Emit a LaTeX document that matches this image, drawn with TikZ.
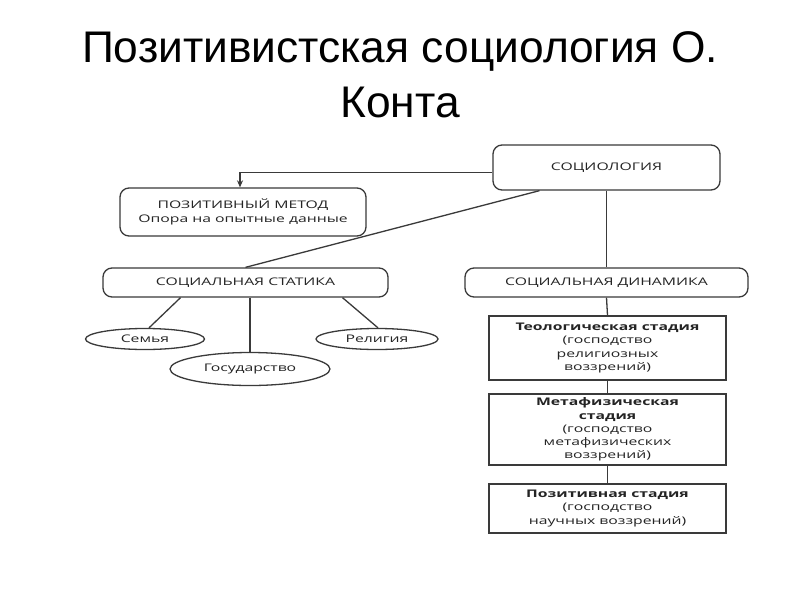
\documentclass[tikz,border=0pt]{standalone}
\usepackage{fontspec}
\setmainfont{Liberation Sans}
\newfontfamily\diafont[FakeStretch=1.5]{Open Sans}
\usetikzlibrary{shapes.geometric,arrows.meta}
\definecolor{lc}{HTML}{3A3A3A}
\definecolor{tc}{HTML}{242424}
\begin{document}
\begin{tikzpicture}[x=1pt,y=-1pt,
  rbox/.style={draw=lc,line width=1.3pt,rounded corners=9pt,inner sep=0pt,align=center,text=tc,font=\diafont\fontsize{10.5}{14}\selectfont},
  sbox/.style={draw=lc,line width=1.5pt,inner sep=0pt,align=center,text=tc,font=\diafont\fontsize{10.5}{13.2}\selectfont,minimum width=237pt},
  ell/.style={draw=lc,line width=1.3pt,ellipse,inner sep=0pt,text=tc,font=\diafont\fontsize{10.5}{14}\selectfont},
  ttl/.style={font=\fontsize{44.3}{54}\selectfont,text=black,anchor=base,inner sep=0pt},
  conn/.style={draw=lc,line width=1.3pt}]
\useasboundingbox (0,0) rectangle (800,600);
\fill[white] (0,0) rectangle (800,600);
\node[ttl] (t1) at (400,62) {Позитивистская социология О.};
\node[ttl] (t2) at (400,117) {Конта};

\node[rbox,minimum width=227pt,minimum height=45pt] (soc) at (606.5,167.5) {СОЦИОЛОГИЯ};
\node[rbox,minimum width=246pt,minimum height=48pt] (pm) at (243,212) {ПОЗИТИВНЫЙ МЕТОД\\Опора на опытные данные};
\node[rbox,minimum width=285pt,minimum height=29pt] (stat) at (245.5,282.5) {СОЦИАЛЬНАЯ СТАТИКА};
\node[rbox,minimum width=283pt,minimum height=29pt] (dyn) at (606.5,282.5) {СОЦИАЛЬНАЯ ДИНАМИКА};

\node[ell,minimum width=119pt,minimum height=21pt] (sem) at (145,339) {Семья};
\node[ell,minimum width=160pt,minimum height=33pt] (gos) at (250,369) {Государство};
\node[ell,minimum width=122pt,minimum height=21pt] (rel) at (377,339) {Религия};

\node[sbox,minimum height=64pt] (teo) at (607.5,348) {\textbf{Теологическая стадия}\\(господство\\религиозных\\воззрений)};
\node[sbox,minimum height=71pt] (met) at (607.5,429.5) {\textbf{Метафизическая}\\\textbf{стадия}\\(господство\\метафизических\\воззрений)};
\node[sbox,minimum height=49pt] (poz) at (607.5,508.5) {\textbf{Позитивная стадия}\\(господство\\научных воззрений)};

\draw[conn,-{Stealth[length=7pt,width=6pt]}] ([yshift=-5pt]soc.west) -| ([xshift=-3pt]pm.north);
\draw[conn] ([xshift=-67pt]soc.south) -- (stat.north);
\draw[conn] (soc.south) -- (dyn.north);
\draw[conn] ([xshift=-65pt]stat.south) -- ([xshift=4pt]sem.north);
\draw[conn] (gos.north |- stat.south) -- (gos.north);
\draw[conn] ([xshift=97pt]stat.south) -- ([xshift=1pt]rel.north);
\draw[conn] (dyn.south) -- (teo.north);
\draw[conn] (teo.south) -- (met.north);
\draw[conn] (met.south) -- (poz.north);
\end{tikzpicture}
\end{document}
